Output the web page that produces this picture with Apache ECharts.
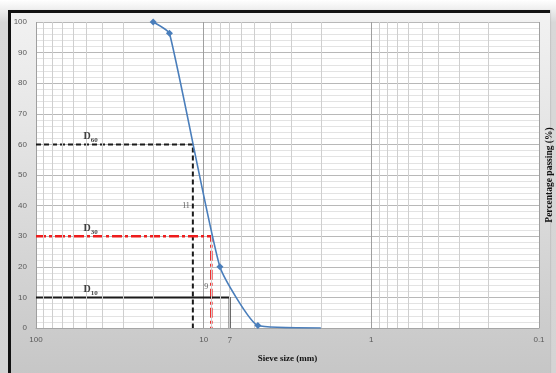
<!DOCTYPE html>
<html>
<head>
<meta charset="utf-8">
<script src="https://cdn.jsdelivr.net/npm/echarts@6/dist/echarts.min.js"></script>
<style>
html,body{margin:0;padding:0;}
body{width:556px;height:373px;overflow:hidden;position:relative;background:linear-gradient(#ffffff,#d8d8d8 6%,#d4d4d4);}
#frame{position:absolute;left:8px;top:10px;width:539px;height:363px;border-left:3px solid #111;border-top:3px solid #111;background:linear-gradient(#f2f2f2,#e6e6e6 30%,#c6c6c6 100%);box-shadow:1px 0 1px rgba(0,0,0,0.08);}
#chart{position:absolute;left:0;top:0;width:556px;height:373px;}
</style>
</head>
<body>
<div id="frame"></div>
<div id="chart"></div>
<script>
// Gradation curve
const sieveSize = [20, 16, 8, 4.75, 2];
const passing = [100, 96.3, 20, 0.8, 0];
const markerShown = [true, true, true, true, false];
// Characteristic diameters
const dNames = ['60', '30', '10'];
const dPercent = [60, 30, 10];
const dSize = [11.6, 9, 7];
const dSizeText = ['11', '9', '7'];
// Axes
const xTicks = [100, 10, 1, 0.1];
const xTickText = ['100', '10', '1', '0.1'];
const yTicks = [0, 10, 20, 30, 40, 50, 60, 70, 80, 90, 100];
const xTitle = 'Sieve size (mm)';
const yTitle = 'Percentage passing (%)';

const minorX = [];
[0.1, 1, 10].forEach(d => { for (let k = 2; k <= 9; k++) minorX.push(+(k * d).toFixed(3)); });

const chart = echarts.init(document.getElementById('chart'), null, {renderer: 'canvas'});
const tickFont = {fontFamily: 'Liberation Sans', fontSize: 8, color: '#595959'};
const serif = 'Liberation Serif';

const curveData = sieveSize.map((x, i) => ({value: [x, passing[i]], symbol: markerShown[i] ? 'diamond' : 'none'}));

const guideStyles = [
  {color: '#1a1a1a', width: 2, type: [5, 3]},
  {color: '#ee1c1c', width: 2.5, type: [10, 3, 3, 3]},
  {color: '#1a1a1a', width: 2, type: 'solid'}
];

const series = [];
// minor vertical gridlines
series.push({
  type: 'line', data: [], z: 0, silent: true,
  markLine: {silent: true, symbol: 'none', label: {show: false},
    lineStyle: {color: '#cfcfcf', width: 1, type: 'solid'},
    data: minorX.map(v => ({xAxis: v}))}
});
dPercent.forEach((p, i) => {
  series.push({
    type: 'line', z: 3, symbol: 'none', silent: true,
    lineStyle: guideStyles[i],
    data: [[100, p], [dSize[i], p], [dSize[i], 0]]
  });
});
series.push({
  type: 'line', z: 5, smooth: 0.15, symbolSize: 7,
  itemStyle: {color: '#4a7ebb'},
  lineStyle: {color: '#4a7ebb', width: 1.6},
  data: curveData
});
// D labels
series.push({
  type: 'scatter', symbolSize: 0, z: 6, silent: true,
  data: dPercent.map((p, i) => ({value: [52, p], name: dNames[i]})),
  label: {show: true, position: 'right', distance: 0, offset: [0, -7],
    formatter: p => '{d|D}{s|' + p.name + '}',
    rich: {
      d: {fontFamily: serif, fontWeight: 'bold', fontSize: 10, color: '#111', verticalAlign: 'top', lineHeight: 12},
      s: {fontFamily: serif, fontWeight: 'bold', fontSize: 7, color: '#111', verticalAlign: 'bottom', lineHeight: 8}
    }}
});
// size labels 11 and 9
series.push({
  type: 'scatter', symbolSize: 0, z: 6, silent: true,
  data: [{value: [dSize[0], 40], name: dSizeText[0]}, {value: [dSize[1], 13.4], name: dSizeText[1]}],
  label: {show: true, position: 'left', distance: 3, formatter: p => p.name,
    fontFamily: serif, fontSize: 8, color: '#333'}
});
// size label 7 below axis
series.push({
  type: 'scatter', symbolSize: 0, z: 6, silent: true,
  data: [{value: [dSize[2], 0], name: dSizeText[2]}],
  label: {show: true, position: 'bottom', distance: 8, formatter: p => p.name,
    fontFamily: serif, fontSize: 9, color: '#333'}
});

chart.setOption({
  animation: false,
  grid: {left: 36, right: 17, top: 22, bottom: 45, show: true, backgroundColor: '#ffffff', borderWidth: 0,
    containLabel: false, outerBoundsMode: 'none'},
  xAxis: {
    type: 'log', logBase: 10, min: 0.1, max: 100, inverse: true,
    name: xTitle, nameLocation: 'middle', nameGap: 26,
    nameTextStyle: {fontFamily: serif, fontWeight: 'bold', fontSize: 9, color: '#111'},
    axisLine: {show: true, lineStyle: {color: '#a6a6a6', width: 1}},
    axisTick: {show: false},
    axisLabel: Object.assign({margin: 8, showMinLabel: true, showMaxLabel: true,
      formatter: v => { const i = xTicks.findIndex(t => Math.abs(t - v) < 1e-9); return i >= 0 ? xTickText[i] : ''; }}, tickFont),
    splitLine: {show: true, lineStyle: {color: '#9f9f9f', width: 1}}
  },
  yAxis: [{
    type: 'value', min: yTicks[0], max: yTicks[yTicks.length - 1], interval: 10,
    axisLine: {show: false}, axisTick: {show: false},
    axisLabel: Object.assign({margin: 9}, tickFont),
    splitLine: {show: true, lineStyle: {color: '#b8b8b8', width: 1}},
    minorTick: {show: false, splitNumber: 5},
    minorSplitLine: {show: true, lineStyle: {color: '#e3e3e3', width: 1}}
  }, {
    type: 'value', min: 0, max: 100, position: 'right',
    name: yTitle, nameLocation: 'middle', nameGap: 6,
    nameTextStyle: {fontFamily: serif, fontWeight: 'bold', fontSize: 9.5, color: '#111'},
    axisLine: {show: false}, axisTick: {show: false}, axisLabel: {show: false}, splitLine: {show: false}
  }],
  series: series
});
</script>
</body>
</html>
